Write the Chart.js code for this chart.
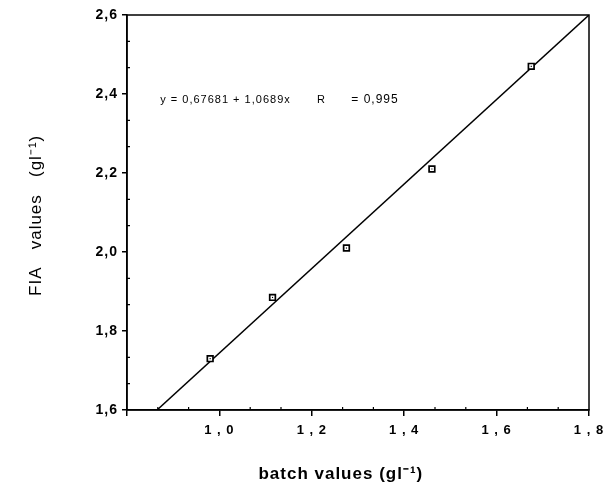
<!DOCTYPE html>
<html>
<head>
<meta charset="utf-8">
<script src="https://cdn.jsdelivr.net/npm/chart.js@4/dist/chart.umd.min.js"></script>
<style>
  body { margin: 0; background: #fff; }
  #wrap { width: 603px; height: 491px; }
</style>
</head>
<body>
<div id="wrap"><canvas id="myChart" width="603" height="491"></canvas></div>
<script>
var batchVals = [0.98, 1.115, 1.275, 1.46, 1.675];
var fiaVals = [1.73, 1.885, 2.01, 2.21, 2.47];

// regression line ends, where it meets the frame
var fitX = [0.865, 1.8];
var fitY = [1.6, 2.6];

var xTicks = [0.8, 1.0, 1.2, 1.4, 1.6, 1.8];
var yTicks = [1.6, 1.8, 2.0, 2.2, 2.4, 2.6];
var eqText = ['y = 0,67681 + 1,0689x', 'R', '= 0,995'];

var pts = batchVals.map(function(v, i) { return {x: v, y: fiaVals[i]}; });
var fitPts = fitX.map(function(v, i) { return {x: v, y: fitY[i]}; });

var FONT = "'Liberation Sans', Arial, sans-serif";

// stretched lettering like the old print
var spacing = {
    id: 'spacing',
    beforeDraw: function(chart) { chart.ctx.letterSpacing = '1px'; },
    afterDraw: function(chart) { chart.ctx.letterSpacing = '0px'; }
};

// box round the plot + small inward minor ticks
var frame = {
    id: 'frame',
    afterDatasetsDraw: function(chart) {
        var ctx = chart.ctx, a = chart.chartArea;
        var xs = chart.scales.x, ys = chart.scales.y;
        ctx.save();
        ctx.strokeStyle = '#000';
        ctx.lineWidth = 1.5;
        ctx.strokeRect(a.left, a.top, a.right - a.left, a.bottom - a.top);
        ctx.lineWidth = 1.2;
        ctx.beginPath();
        for (var i = 0; i < xTicks.length - 1; i++) {
            for (var k = 1; k < 3; k++) {
                var vx = xTicks[i] + (xTicks[i + 1] - xTicks[i]) * k / 3;
                var px = xs.getPixelForValue(vx);
                ctx.moveTo(px, a.bottom);
                ctx.lineTo(px, a.bottom - 3);
            }
        }
        for (var j = 0; j < yTicks.length - 1; j++) {
            for (var m = 1; m < 3; m++) {
                var vy = yTicks[j] + (yTicks[j + 1] - yTicks[j]) * m / 3;
                var py = ys.getPixelForValue(vy);
                ctx.moveTo(a.left, py);
                ctx.lineTo(a.left + 3, py);
            }
        }
        ctx.stroke();

        // equation of the fit
        ctx.fillStyle = '#000';
        ctx.font = '11px ' + FONT;
        ctx.textBaseline = 'middle';
        var ty = ys.getPixelForValue(2.385);
        ctx.fillText(eqText[0], xs.getPixelForValue(0.872), ty);
        ctx.fillText(eqText[1], xs.getPixelForValue(1.2115), ty);
        ctx.font = '12px ' + FONT;
        ctx.fillText(eqText[2], xs.getPixelForValue(1.2855), ty);
        ctx.restore();
    }
};

var ctx = document.getElementById('myChart');
var myChart = new Chart(ctx, {
    type: 'scatter',
    data: {
        datasets: [{
            label: 'fit',
            data: fitPts,
            showLine: true,
            borderColor: '#000',
            borderWidth: 1.5,
            pointRadius: 0,
            order: 3
        }, {
            label: 'samples',
            data: pts,
            pointStyle: 'rect',
            pointRadius: 4,
            borderWidth: 1.7,
            borderColor: '#000',
            backgroundColor: '#fff',
            order: 2
        }, {
            label: 'centres',
            data: pts,
            pointStyle: 'rect',
            pointRadius: 0.8,
            borderWidth: 0,
            backgroundColor: '#000',
            order: 1
        }]
    },
    options: {
        responsive: false,
        animation: false,
        layout: { padding: { top: 15, right: 14, left: 0, bottom: 0 } },
        plugins: { legend: { display: false }, tooltip: { enabled: false } },
        scales: {
            x: {
                type: 'linear',
                min: 0.8,
                max: 1.8,
                afterFit: function(scale) {
                    scale.height = 81;
                    scale.paddingRight = 0;
                },
                afterBuildTicks: function(scale) {
                    scale.ticks = xTicks.map(function(v) { return {value: v}; });
                },
                ticks: {
                    color: '#000',
                    font: { family: FONT, size: 13, weight: 'bold' },
                    padding: 7,
                    maxRotation: 0,
                    callback: function(v) {
                        if (v < 0.9) return '';
                        return v.toFixed(1).replace('.', ' , ');
                    }
                },
                grid: { drawOnChartArea: false, tickLength: 6, color: '#000', lineWidth: 1.5 },
                border: { display: true, color: '#000', width: 1.5 },
                title: {
                    display: true,
                    // trailing spaces pull the title a bit left of the axis centre
                    text: 'batch values (gl\u207B\u00B9)      ',
                    color: '#000',
                    font: { family: FONT, size: 17, weight: 'bold' },
                    padding: { top: 10, bottom: 6 }
                }
            },
            y: {
                type: 'linear',
                min: 1.6,
                max: 2.6,
                afterFit: function(scale) { scale.width = 127; },
                afterBuildTicks: function(scale) {
                    scale.ticks = yTicks.map(function(v) { return {value: v}; });
                },
                ticks: {
                    color: '#000',
                    font: { family: FONT, size: 14, weight: 'bold' },
                    padding: 4,
                    callback: function(v) { return v.toFixed(1).replace('.', ','); }
                },
                grid: { drawOnChartArea: false, tickLength: 5, color: '#000', lineWidth: 1.5 },
                border: { display: true, color: '#000', width: 1.5 },
                title: {
                    display: true,
                    text: 'FIA   values   (gl\u207B\u00B9) ',
                    color: '#000',
                    font: { family: FONT, size: 17 },
                    padding: { top: 26, bottom: 4 }
                }
            }
        }
    },
    plugins: [spacing, frame]
});
</script>
</body>
</html>
